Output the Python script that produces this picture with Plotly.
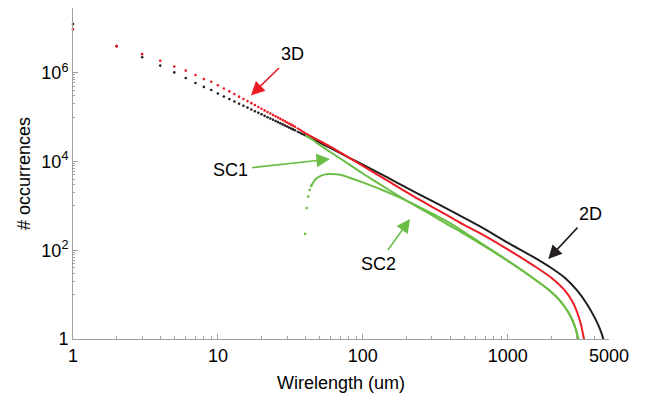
import plotly.graph_objects as go

# ---------------- data ----------------
dot_x = list(range(1, 35))
black_dots = [1.26e7, 3.98e6, 2.24e6, 1.45e6, 1.02e6, 7.6e5, 5.9e5, 4.8e5, 4.1e5, 3.4e5,
              2.92e5, 2.55e5, 2.26e5, 2.01e5, 1.81e5, 1.64e5, 1.49e5, 1.36e5, 1.25e5, 1.16e5,
              1.07e5, 9.98e4, 9.31e4, 8.73e4, 8.18e4, 7.71e4, 7.26e4, 6.87e4, 6.50e4, 6.17e4,
              5.85e4, 5.56e4, 5.30e4, 5.05e4]
red_dots = [9.55e6, 3.98e6, 2.63e6, 1.86e6, 1.38e6, 1.12e6, 8.9e5, 7.2e5, 6.3e5, 5.25e5,
            4.44e5, 3.81e5, 3.31e5, 2.90e5, 2.57e5, 2.30e5, 2.07e5, 1.87e5, 1.69e5, 1.55e5,
            1.42e5, 1.31e5, 1.21e5, 1.12e5, 1.05e5, 9.77e4, 9.14e4, 8.57e4, 8.05e4, 7.59e4,
            7.16e4, 6.78e4, 6.43e4, 6.10e4]

black_x = [35, 40, 50, 60, 80, 100, 150, 200, 300, 400, 500, 700, 1000, 1500, 2000, 2500,
           3000, 3500, 4000, 4300, 4565, 4620]
black_y = [4.79e4, 3.89e4, 2.69e4, 2.00e4, 1.23e4, 8.51e3, 4.27e3, 2.57e3, 1.29e3, 794, 537,
           295, 148, 70.8, 39.8, 23.4, 12.6, 6.31, 2.95, 1.78, 1.0, 0.79]

red_x = [35, 40, 50, 60, 80, 100, 150, 200, 300, 400, 500, 700, 1000, 1500, 2000, 2500,
         2800, 3000, 3200, 3360, 3400]
red_y = [5.78e4, 4.37e4, 2.95e4, 2.14e4, 1.23e4, 7.94e3, 3.63e3, 2.04e3, 955, 562, 372,
         209, 105, 45.7, 24.0, 12.0, 6.92, 4.17, 2.14, 1.0, 0.83]

sc1_x = [40, 45, 50, 60, 80, 100, 150, 200, 300, 400, 500, 700, 1000, 1500, 2000, 2300,
         2600, 2800, 2950, 3070, 3120]
sc1_y = [3.89e4, 3.09e4, 2.40e4, 1.62e4, 8.71e3, 5.37e3, 2.34e3, 1.32e3, 617, 355, 234,
         120, 57.5, 23.4, 11.5, 7.24, 4.17, 2.63, 1.66, 1.0, 0.83]

sc2_dot_x = [40, 41, 42, 43, 44]
sc2_dot_y = [234, 891, 1620, 2290, 2820]
sc2_x = [44, 46, 48, 50, 55, 60, 70, 80, 100, 150, 200, 300, 400, 500, 700, 1000, 1500,
         2000, 2300, 2600, 2800, 2950, 3070, 3120]
sc2_y = [2820, 3550, 4170, 4570, 5130, 5250, 5010, 4370, 3390, 2000, 1320, 676, 407, 257,
         126, 58.9, 23.4, 11.5, 7.24, 4.17, 2.63, 1.66, 1.0, 0.83]

x_tickvals = [1, 10, 100, 1000, 5000]
x_ticktext = ["1", "10", "100", "1000", "5000"]
x_minor = [2, 3, 4, 5, 6, 7, 8, 9, 20, 30, 40, 50, 60, 70, 80, 90,
           200, 300, 400, 500, 600, 700, 800, 900, 2000, 3000, 4000]
y_tickvals = [1, 100, 1e4, 1e6]
y_ticktext = ["1", "10<sup>2</sup>", "10<sup>4</sup>", "10<sup>6</sup>"]
y_minor = [10, 20, 30, 40, 50, 60, 70, 80, 90,
           1e3, 2e3, 3e3, 4e3, 5e3, 6e3, 7e3, 8e3, 9e3,
           1e5, 2e5, 3e5, 4e5, 5e5, 6e5, 7e5, 8e5, 9e5]

# ---------------- styling ----------------
BLACK = "#231f20"
RED = "#ed1c24"
GREEN = "#6abd45"
AXIS = "#a0a0a0"
FONT = "Liberation Sans, Arial, sans-serif"
FS = 18

fig = go.Figure()
spl = dict(width=2, shape="spline", smoothing=0.7)
fig.add_trace(go.Scatter(x=black_x, y=black_y, mode="lines", line=dict(color=BLACK, **spl)))
fig.add_trace(go.Scatter(x=red_x, y=red_y, mode="lines", line=dict(color=RED, **spl)))
fig.add_trace(go.Scatter(x=sc1_x, y=sc1_y, mode="lines", line=dict(color=GREEN, **spl)))
fig.add_trace(go.Scatter(x=sc2_x, y=sc2_y, mode="lines", line=dict(color=GREEN, **spl)))
fig.add_trace(go.Scatter(x=dot_x, y=black_dots, mode="markers", marker=dict(color=BLACK, size=2.6), cliponaxis=False))
fig.add_trace(go.Scatter(x=dot_x, y=red_dots, mode="markers", marker=dict(color=RED, size=2.6), cliponaxis=False))
fig.add_trace(go.Scatter(x=sc2_dot_x, y=sc2_dot_y, mode="markers", marker=dict(color=GREEN, size=2.6)))

def arrow(text, lx, ly, ax, ay, color):
    return dict(x=lx, y=ly, xref="x", yref="y", text=text, showarrow=True,
                ax=ax, ay=ay, axref="pixel", ayref="pixel",
                arrowhead=2, arrowsize=1.7, arrowwidth=1.6, arrowcolor=color,
                standoff=0, startstandoff=3,
                font=dict(family=FONT, size=FS, color="black"))

fig.update_layout(
    width=648, height=397,
    margin=dict(l=73, r=39, t=8, b=58),
    paper_bgcolor="white", plot_bgcolor="white",
    showlegend=False,
    font=dict(family=FONT, size=FS, color="black"),
    xaxis=dict(type="log", range=[0, 3.699], showgrid=False, zeroline=False, automargin=False,
               showline=True, linecolor=AXIS, linewidth=1,
               ticks="inside", ticklen=5, tickcolor=AXIS,
               tickmode="array", tickvals=x_tickvals, ticktext=x_ticktext,
               tickfont=dict(family=FONT, size=FS, color="black"),
               minor=dict(tickmode="array", tickvals=x_minor, ticks="inside", ticklen=3, tickcolor=AXIS, showgrid=False),
               title=dict(text="Wirelength (um)", font=dict(family=FONT, size=FS), standoff=11)),
    yaxis=dict(type="log", range=[0, 7.46], showgrid=False, zeroline=False, automargin=False,
               showline=True, linecolor=AXIS, linewidth=1,
               ticks="inside", ticklen=5, tickcolor=AXIS,
               tickmode="array", tickvals=y_tickvals, ticktext=y_ticktext,
               tickfont=dict(family=FONT, size=FS, color="black"),
               minor=dict(tickmode="array", tickvals=y_minor, ticks="inside", ticklen=2, tickcolor=AXIS, showgrid=False),
               title=dict(text="# occurrences", font=dict(family=FONT, size=FS), standoff=6)),
    annotations=[
        arrow("3D", 1.228, 5.489, 42, -41, RED),
        arrow("SC1", 1.774, 4.056, -100, 11, GREEN),
        arrow("SC2", 2.326, 2.705, -32, 45, GREEN),
        arrow("2D", 3.280, 1.804, 42, -45, BLACK),
    ],
)

fig.write_html("out.html", config={"displayModeBar": False},
               post_script="document.body.style.margin='0';document.body.style.padding='0';")
